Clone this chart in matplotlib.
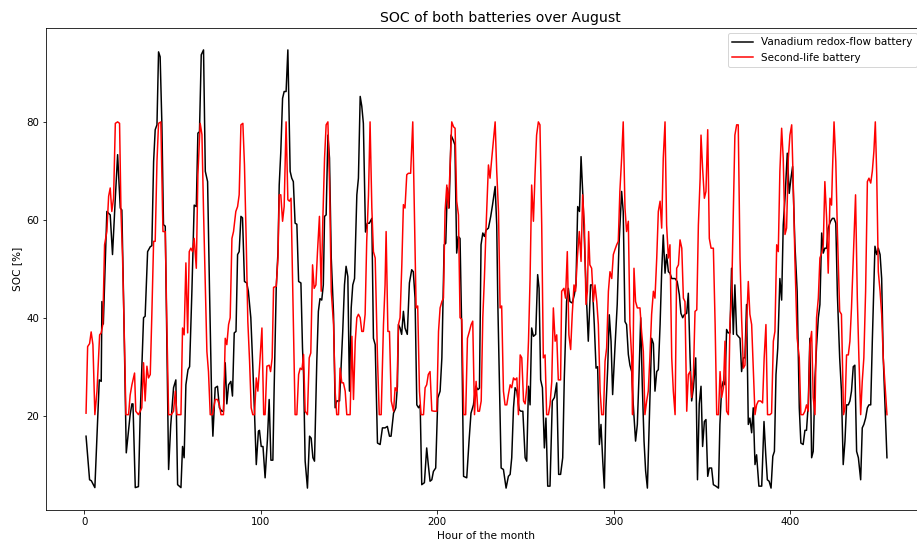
import matplotlib
matplotlib.use("Agg")
import matplotlib.pyplot as plt

# ---------------- data ----------------
vrfb_hours = [1, 3, 4, 6, 8.5, 9.6, 10, 10.8, 12.8, 14.7, 16, 17.6, 18.9, 20.4, 21.3, 22.3, 23.8, 26, 27, 27.6,
              28.9, 30.7, 31.7, 33.6, 34.5, 35.9, 37.4, 38.3, 39.3, 40.2, 41.2, 42.1, 43, 44, 44.9, 45.9, 47.8, 49,
              50.6, 51.9, 52.9, 54.8, 55.7, 56.6, 57.6, 58.8, 59.7, 61, 62.3, 63.5, 64.4, 65.3, 66.3, 67.6, 68.6,
              69.9, 71, 72.3, 72.9, 74.2, 75.5, 76.6, 78, 78.9, 79.9, 80.8, 81.8, 83.1, 84, 85, 86, 86.9, 87.8,
              88.8, 89.7, 90.8, 92.1, 93, 94.4, 95.5, 96.5, 97.5, 98.7, 99.3, 100.3, 101.3, 102.5, 103.8, 104.8,
              105.8, 106.9, 107.6, 108.8, 109.8, 110.5, 111.4, 112.4, 113.3, 114.4, 115.4, 116.7, 117.6, 118.5,
              119.5, 120.5, 121.5, 122.8, 123.7, 124.3, 125.2, 126.5, 127.7, 128.6, 129.6, 130.5, 131.8, 132.7,
              133.6, 134.6, 135.5, 136.2, 137.1, 138.1, 139, 140, 141.3, 142.2, 143.1, 144.7, 145.6, 146.5, 147.5,
              148.4, 149.4, 150.3, 151.3, 152.2, 153.2, 154.5, 155.4, 156.4, 157.3, 158.2, 159.4, 160.4, 161.6,
              163, 163.9, 164.9, 166.2, 167.7, 169, 170.5, 171.8, 173, 173.9, 175.3, 176.6, 177.5, 178.1, 179,
              179.9, 180.9, 181.8, 183.1, 184.3, 185.6, 186.5, 187.5, 188.5, 189.5, 190.4, 191.3, 192.8, 194.1,
              195, 196, 197, 197.9, 199.2, 200.4, 201.7, 202.7, 204, 204.9, 205.8, 206.8, 207.9, 209.1, 210.1,
              211.1, 212, 213, 213.9, 215, 216.8, 218.1, 219.2, 220.6, 221.9, 223.1, 224, 224.9, 225.9, 226.8,
              227.8, 229.1, 230.4, 231.4, 232.9, 233.8, 234.4, 235.3, 236.3, 237.6, 239.1, 240.4, 241.4, 242.3,
              243.3, 244.2, 245.2, 246.5, 247.5, 248.6, 249.9, 250.8, 251.8, 252.7, 253.6, 254.6, 255.9, 257,
              257.8, 258.7, 259.7, 260.8, 261.7, 262.7, 264, 265.3, 266.5, 267.8, 268.9, 270, 271.2, 272.1, 273.4,
              274.4, 275.3, 276.6, 277.8, 278.7, 279.7, 280.7, 281.6, 282.6, 283.5, 284.5, 285.7, 287, 288, 289.1,
              290.1, 291, 292, 292.9, 293.9, 294.8, 295.7, 296.7, 297.6, 298.6, 299.5, 300.8, 302.1, 303.1, 304.6,
              305.5, 306.5, 307.4, 308.4, 309.3, 310.3, 311.2, 312.5, 313.5, 314.4, 315.4, 316.3, 317.3, 318.2,
              319.2, 320.3, 321.6, 322.6, 323.5, 324.5, 325.4, 326.4, 327.3, 328.2, 329.2, 330.1, 331.1, 332, 333,
              334.9, 336.1, 337.3, 338.2, 339.2, 340.1, 341.5, 342.4, 343.4, 344.3, 345.3, 346.6, 347.6, 348.6,
              349.6, 350.5, 351.5, 352.4, 353.4, 354.3, 355.6, 356.6, 358, 359.5, 360.3, 361.3, 362.2, 363.2,
              364.1, 365, 366, 366.9, 367.9, 368.8, 369.8, 370.7, 371.7, 372.6, 373.6, 374.5, 375.4, 376.4, 377.3,
              378.3, 379.2, 380.2, 381.1, 382.4, 384, 385.3, 386.3, 387.2, 388.2, 389.3, 390.3, 391.2, 392.1,
              393.1, 394.3, 395.3, 396.2, 397.2, 398.5, 399.6, 400.6, 401.5, 402.8, 404.1, 405.3, 406.2, 407.5,
              408.5, 409.4, 410.4, 411.3, 412.3, 413.2, 414.2, 415.1, 416.1, 417, 418, 418.9, 419.8, 420.8, 421.7,
              423, 424.1, 425, 426, 426.9, 428.2, 429.2, 430.2, 431.2, 432.1, 433.1, 434, 434.9, 435.9, 436.8,
              437.8, 438.8, 440.1, 441, 441.9, 442.9, 443.9, 444.8, 445.8, 446.7, 448.2, 449.2, 450.1, 451.1, 452,
              452.9, 455]
vrfb_soc = [15.8, 6.9, 6.7, 5.3, 27.3, 27, 43.3, 38.7, 61.7, 61, 52.9, 64.5, 73.3, 62.4, 62, 43.3, 12.4, 20.2, 22.4,
            22.4, 5.3, 5.5, 20.2, 40, 40.3, 53.5, 54.5, 54.7, 71.9, 78.4, 79.4, 94.3, 93.3, 79.4, 59, 58.7, 9, 18,
            25.7, 27.3, 5.9, 5.3, 13.7, 11.4, 26.3, 29.4, 30, 45.4, 63, 62.7, 77.7, 78, 93.7, 94.7, 69.9, 67.8, 45.4,
            21.6, 15.8, 25.7, 26, 21.6, 20.9, 20.9, 30.8, 22.4, 26.3, 27, 24, 36.9, 37.2, 52.9, 53.5, 60.7, 60.4,
            47.4, 47.1, 45.4, 40, 30.3, 20.5, 10, 16.8, 17, 13.7, 13.7, 7.3, 15, 23.3, 10.9, 10.9, 25, 46, 53.5,
            67.1, 73.9, 84.8, 86.2, 86.2, 94.7, 69.9, 68.5, 67.8, 59.3, 59.1, 47.4, 47.1, 33.8, 28.4, 10.7, 5.2,
            15.8, 15.4, 11.4, 10.7, 31.1, 41.3, 43.9, 43.6, 46.7, 60.7, 61, 77.3, 72.6, 52.2, 40.7, 21.6, 23, 23,
            29.9, 37.2, 46.7, 50.5, 48.4, 25, 42, 46.7, 48, 65.1, 68.5, 85.2, 83.2, 79.7, 57.5, 59.3, 59.3, 60.3,
            35.8, 34.5, 14.4, 14.1, 17.5, 17.5, 17.8, 15.8, 15.8, 20.5, 21.6, 26, 38.6, 37.9, 36.6, 41.3, 37.9, 36.6,
            47.1, 49.8, 49.4, 44, 22.2, 21.6, 22.2, 5.9, 6.3, 13.4, 10, 6.6, 6.9, 8.6, 9.3, 23.6, 25, 31.8, 54.9,
            55.2, 66.5, 62.4, 77.3, 76.3, 75.3, 53.2, 56.6, 56.2, 38.6, 7.6, 7.3, 14.8, 20.5, 22.2, 26, 25.3, 25.6,
            54.9, 57.3, 56.6, 57.9, 58.3, 60.7, 63, 66.8, 58.9, 43.3, 26.9, 9.3, 9, 5.2, 7.6, 8, 11.4, 21.6, 25.7,
            25, 21.2, 20.9, 20.9, 11.4, 10.7, 26, 22.2, 37.9, 36.2, 36.6, 48.8, 46, 27.3, 25.7, 13.4, 19.5, 5.6, 5.6,
            23, 23.7, 26.7, 8, 8, 11.4, 27.7, 43.3, 46, 43.3, 43, 44.7, 46.7, 62.7, 61.7, 72.9, 65.1, 55.6, 45.4,
            35.2, 46.7, 46.7, 38.6, 29.7, 30, 14.1, 18.2, 10.7, 5.2, 21.6, 29.7, 40.6, 35.2, 24.3, 33.8, 42.7, 54.9,
            65.8, 61.7, 39.2, 38.6, 32.5, 30.3, 29, 22.2, 14.8, 18.2, 27.7, 40, 26.3, 14.8, 8.7, 5.2, 19.5, 35.8,
            34.7, 25, 29, 29.4, 38.6, 49.4, 56.9, 49.1, 52.9, 49.4, 49.1, 48, 48, 47.4, 44.7, 40.9, 40, 40.6, 40.9,
            45, 31.8, 23, 25.7, 31.8, 6.9, 22.4, 26, 13.7, 18.8, 19.2, 7.6, 9.3, 9.3, 5.9, 5.6, 5.2, 18.2, 25.7, 27,
            26.3, 37.6, 36.9, 36.9, 50.1, 36.6, 46.7, 36.6, 36.2, 35.8, 29, 31.8, 31.8, 42.7, 18.2, 19.5, 16.5, 21.6,
            10, 12, 5.6, 5.6, 18.8, 12, 6.9, 6.6, 5.2, 11.7, 12.7, 28.4, 33.8, 48, 43.6, 58.9, 64.4, 73.6, 65.4,
            68.5, 70.9, 55.2, 45.4, 21.6, 14.4, 14.1, 17, 17, 22.4, 35.8, 11.4, 12.7, 27.7, 34.2, 40, 42.7, 57.3,
            53.2, 54.2, 54.2, 58.3, 59.7, 60.3, 60.3, 59.3, 44.7, 31.8, 25, 10, 14.8, 22.2, 22.2, 23, 25, 30, 30.3,
            12.7, 11.4, 6.9, 17.5, 18.2, 19.5, 21.6, 22.2, 22.2, 35.2, 54.6, 52.9, 54.2, 52.9, 48, 31.8, 11.4]

sl_hours = [1, 1.9, 3, 3.9, 4.9, 6, 7.2, 8.7, 9.6, 10.5, 11.5, 12.8, 13.8, 14.7, 15.6, 16.6, 17.6, 18.9, 20, 20.8,
            21.7, 22.8, 23.6, 25.1, 26, 27, 27.9, 28.5, 29.2, 30.7, 31.7, 32.6, 33.6, 34.5, 35.5, 36.4, 37.4, 38.3,
            39.3, 40.2, 41.2, 42.1, 43.4, 44.6, 45.9, 46.8, 47.8, 49.3, 50.6, 51.6, 52.5, 54.8, 55.7, 56.6, 57.6,
            58.6, 59.5, 60.4, 61.4, 62.3, 63.5, 64.4, 65.7, 66.7, 67.6, 68.6, 69.5, 70.4, 71.4, 72.7, 74.2, 75.5,
            76.6, 77.5, 78.9, 79.9, 80.8, 81.8, 82.7, 83.7, 84.6, 85.9, 86.9, 87.8, 88.8, 89.9, 90.8, 91.8, 92.7,
            93.7, 94.6, 95.5, 96.5, 97.5, 98.4, 99.3, 100.7, 101.7, 102.5, 103.5, 104.8, 105.6, 106.5, 107.3, 108.8,
            109.8, 110.5, 111.4, 112.4, 113.3, 114.4, 115.4, 116.3, 117.2, 118.2, 119.5, 120.5, 121.5, 122.4,
            123.4, 124.3, 125.2, 126.5, 127.5, 128.4, 129.4, 130.3, 131.3, 132.2, 133.3, 134.3, 135.2, 136.2,
            137.1, 138.1, 139, 140, 141.3, 142.2, 143.1, 144.1, 145, 146, 146.9, 147.9, 148.8, 150.7, 151.7, 152.6,
            153.6, 154.5, 155.4, 156.4, 157.3, 158.2, 159.2, 160.1, 161.1, 162, 163, 163.9, 164.9, 166.2, 167.2,
            168.3, 169.6, 170.5, 171.1, 172.1, 173, 174, 175.3, 176.2, 177.2, 178.1, 179, 180, 180.9, 181.8, 182.8,
            183.7, 185, 186.2, 187.1, 188.1, 189, 190, 190.9, 192.3, 193.2, 194.1, 195, 196, 197, 198.3, 199.8,
            200.8, 201.7, 202.7, 203.6, 204.5, 205.5, 206.4, 207.4, 208.3, 209.3, 210.2, 211.1, 212.1, 213, 214,
            215.1, 216.2, 217.2, 218.3, 219.3, 220.2, 221.2, 222.1, 223.1, 224, 225, 225.9, 226.8, 227.8, 229.1,
            230, 231, 231.9, 232.9, 233.8, 234.8, 235.7, 236.6, 237.6, 238.5, 239.5, 240.4, 241.4, 242.3, 243.3,
            244.2, 245.2, 246.1, 247.1, 248, 249, 249.9, 250.8, 251.8, 252.7, 253.6, 254.6, 255.5, 256.4, 257.4,
            258.3, 259.3, 260.2, 261.2, 262.1, 263.1, 264, 265, 265.9, 266.9, 267.8, 268.7, 270, 270.6, 271.9,
            272.8, 273.8, 274.7, 275.7, 276.6, 277.6, 278.5, 279.5, 280.6, 281.6, 282.5, 283.5, 284.4, 285.2,
            285.9, 286.6, 287.6, 288.6, 289.5, 290.5, 291.4, 292.4, 293.3, 294.3, 295.2, 296.1, 297.1, 298, 299,
            299.9, 300.8, 301.8, 302.7, 303.6, 304.6, 305.5, 306.5, 307.4, 308.4, 309.3, 310.3, 310.8, 311.6,
            312.5, 313.5, 315, 315.9, 316.9, 317.8, 318.8, 319.7, 320.6, 321.6, 322.6, 323.5, 324.5, 325.4, 326.4,
            327.3, 328.2, 329.2, 330.1, 331.1, 332, 333, 333.9, 334.9, 335.8, 336.8, 337.7, 338.7, 339.6, 340.5,
            341.5, 342.4, 343.4, 344.3, 345.3, 346.2, 347.2, 348.1, 349.1, 349.6, 350.5, 351.5, 352.4, 353.4,
            354.3, 355.3, 356.6, 357.6, 358.5, 359.5, 360.4, 361.3, 362.3, 363.2, 364.1, 365.1, 366, 367, 367.9,
            368.8, 369.8, 370.7, 371.7, 372.6, 373.6, 374.5, 375.4, 376.4, 377.3, 378.3, 379.2, 380.2, 381.1,
            382.1, 383.4, 384.5, 385.4, 386.4, 387.3, 388.7, 389.6, 390.6, 391.5, 392.5, 393.4, 394.3, 395.3,
            396.2, 397.2, 398.1, 399.1, 400, 401, 401.9, 402.8, 404.1, 405.3, 406.2, 407.5, 408.5, 409.4, 410.4,
            411.3, 412.3, 413.2, 414.2, 415.1, 416.1, 417, 418, 418.9, 419.8, 420.8, 421.7, 422.7, 423.6, 424.1,
            425, 426, 426.9, 428.2, 429.2, 430.4, 431.2, 432.1, 433.1, 434, 434.9, 435.9, 437.2, 438.2, 439.1,
            440.1, 441, 441.9, 442.9, 443.9, 444.8, 445.8, 446.7, 447.6, 448.4, 449.2, 450.1, 451.1, 452, 452.9,
            455]
sl_soc = [20.5, 34.1, 34.7, 37.1, 34.5, 20.2, 25, 36.5, 36.9, 38.6, 54.9, 57.6, 64.8, 66.5, 61.7, 64.4, 79.7, 80,
          79.7, 61.7, 52.2, 34.5, 20.2, 20.2, 24.2, 26.3, 27.7, 28.7, 20.9, 20.2, 20.9, 21.6, 30.8, 23, 30.1, 27.7,
          28.4, 40.7, 55.6, 55.6, 71.9, 79.7, 80, 57.6, 57.6, 38.6, 20.2, 20.2, 20.9, 25, 20.2, 20.2, 37.9, 36.5,
          51.2, 36.9, 53.5, 54.2, 53.5, 56.2, 50.1, 69.2, 79.7, 77.4, 61.7, 46.7, 33.1, 29, 20.2, 20.2, 23.3, 23.3,
          22.2, 20.2, 20.2, 35.8, 34.5, 38.6, 40, 56.2, 57.6, 61.7, 62.7, 65.1, 79.4, 79.7, 71.2, 55.6, 39.3, 31.1,
          21.6, 20.2, 20.2, 27.7, 25, 29.7, 37.9, 20.2, 20.2, 30.1, 30.3, 29, 31.8, 46.2, 46.4, 52.2, 65.1, 65.1,
          59.7, 62.7, 80, 64.1, 63.8, 64.4, 45.4, 20.2, 20.2, 28.4, 29.7, 29.4, 32.5, 20.9, 20.2, 31.8, 32.8, 50.8,
          46, 46.7, 53.5, 60.7, 45.4, 59.7, 72.6, 79.4, 80, 67.8, 45.4, 38.6, 25, 20.2, 20.2, 29.7, 26.7, 26.7, 25,
          20.2, 20.2, 36.2, 23.3, 35.2, 40, 40.7, 40, 37.2, 37.2, 40.7, 55.6, 65, 80, 62.4, 53.5, 52.2, 31.8, 20.2,
          20.2, 38.6, 46.7, 57.6, 37.2, 37.2, 23, 20.9, 25.7, 25, 38.6, 40, 50.8, 63.1, 62.4, 69.2, 69.5, 69.5, 80,
          61.7, 42, 42.4, 25, 20.2, 20.2, 25.7, 26.3, 28.4, 29, 21, 20.9, 20.9, 37.2, 42, 43.3, 44, 61.7, 67.1,
          62.4, 71.2, 80, 79, 78.7, 63.8, 61, 40, 39.7, 20.2, 20.2, 35.8, 37.2, 38.6, 39.3, 20.2, 27, 20.9, 20.9,
          23, 40, 48, 58.9, 71.2, 68.5, 72.6, 76, 80, 69.9, 61.7, 42, 42.4, 25, 22.2, 22.2, 24.3, 26.3, 25.7, 27.7,
          27.3, 27.7, 20.2, 32.4, 31.8, 23, 22.4, 25.7, 35.2, 48, 67.1, 59.7, 69.2, 77.3, 80, 79.4, 58.9, 31.8,
          32.4, 20.2, 20.2, 22.2, 27, 42, 35.2, 36.5, 27.3, 27.3, 45.4, 46, 44, 53.5, 36.5, 33.5, 40.7, 46.7, 45.4,
          52.2, 57.6, 51.5, 65.1, 58.9, 42.7, 45.4, 57.6, 50.8, 50.1, 43.3, 46.7, 43.3, 38.6, 25, 20.2, 20.2, 31.1,
          33.8, 45.4, 49.4, 48, 52.9, 53.9, 54.9, 55.6, 65.8, 72.6, 80, 62.4, 57.6, 59.7, 38.6, 31.8, 20.2, 50.1,
          43.3, 42, 42, 37.2, 33.1, 20.2, 23, 25, 31.8, 40.7, 45.4, 44, 52.2, 61.7, 63.8, 58.3, 72.6, 80, 58.9,
          52.2, 54.9, 31.8, 25, 20.2, 50.1, 50.8, 55.9, 54.2, 44, 43.3, 20.9, 28.4, 29, 23.7, 28.4, 41.3, 41.6,
          58.9, 68.5, 77.3, 70.5, 64.4, 65.8, 78.4, 56.2, 54.2, 54.2, 38.6, 20.2, 20.2, 29, 23.7, 25.7, 35.2, 20.9,
          20.2, 38.6, 45.4, 61.7, 77.3, 79.4, 79.4, 52.2, 40, 29.7, 30.3, 38.6, 47.4, 40.7, 38.6, 29.7, 20.2,
          22.2, 23, 23, 22.6, 31.8, 38.6, 20.2, 20.2, 20.5, 35.2, 37.2, 54.9, 53.5, 69.9, 78.7, 72.6, 57, 58.3,
          72.6, 77.3, 79.4, 67.1, 52.2, 35.8, 31.8, 20.2, 20.2, 20.9, 22.2, 20.9, 34.5, 37.2, 23.7, 20.2, 40, 44,
          52.2, 53.2, 54.9, 67.8, 60.3, 49.1, 64.4, 63, 69.9, 80, 71.9, 57.6, 41.3, 40.7, 20.2, 21.5, 32.4, 32.4,
          35.2, 42, 52.2, 65.1, 44, 31.8, 20.2, 27, 31.8, 45.4, 67.8, 68.5, 67.5, 69.9, 74, 80, 69.2, 49.4, 45.4,
          40.7, 31.8, 20.2]

series_labels = ["Vanadium redox-flow battery", "Second-life battery"]
y_ticks = [20, 40, 60, 80]
x_ticks = [0, 100, 200, 300, 400]

# ---------------- figure ----------------
W, H, DPI = 917, 542, 72
fig = plt.figure(figsize=(W / DPI, H / DPI), dpi=DPI)
# axes extends slightly past the right edge, as in the (cropped) reference
ax_left, ax_right, ax_top, ax_bottom = 46, 927, 28, 510
ax = fig.add_axes([ax_left / W, (H - ax_bottom) / H, (ax_right - ax_left) / W, (ax_bottom - ax_top) / H])

ax.plot(vrfb_hours, vrfb_soc, color="black", linewidth=1.5, label=series_labels[0])
ax.plot(sl_hours, sl_soc, color="red", linewidth=1.5, label=series_labels[1])

ax.set_xticks(x_ticks)
ax.set_yticks(y_ticks)
ax.set_xlabel("Hour of the month", fontsize=10.5)
ax.set_ylabel("SOC [%]", fontsize=10.5)
ax.set_title("SOC of both batteries over August", fontsize=14,
             x=(500 - ax_left) / (ax_right - ax_left))
ax.tick_params(labelsize=10.3)
ax.legend(loc="upper right", fontsize=10.4,
          bbox_to_anchor=((922 - ax_left) / (ax_right - ax_left), 1.0))

fig.savefig("out.png", dpi=DPI)
